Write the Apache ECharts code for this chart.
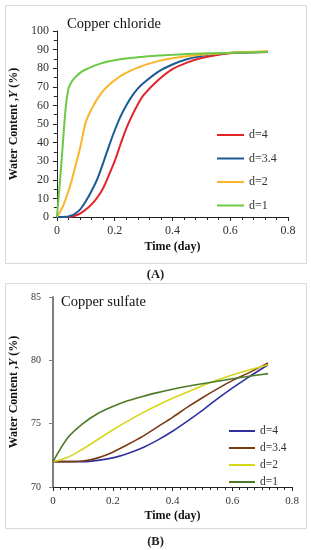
<!DOCTYPE html>
<html><head><meta charset="utf-8">
<script src="https://cdn.jsdelivr.net/npm/echarts@6/dist/echarts.min.js"></script>
<style>html,body{margin:0;padding:0;background:#fff}#c{width:311px;height:550px}</style>
</head><body><div id="c"></div>
<script>
// Panel A: Copper chloride
const timeA = [0,0.01,0.02,0.03,0.04,0.05,0.06,0.08,0.1,0.12,0.14,0.16,0.18,0.2,0.22,0.24,0.26,0.28,0.3,0.35,0.4,0.45,0.5,0.55,0.6,0.65,0.73];
const namesA = ['d=4','d=3.4','d=2','d=1'];
const a_d4  = [0,0,0,0,0,0.2,0.5,1.8,4,6.8,10.5,15.5,22.5,30,39,47.5,54.5,60.5,65.5,73.5,79.5,83,85.5,87,88,88.4,88.7];
const a_d34 = [0,0,0,0.1,0.3,0.8,1.5,4,8.5,14,20.5,29,38,46.5,54,60,65,69,72,78,82,84.8,86.6,87.7,88.2,88.5,88.7];
const a_d2  = [0,2.5,5.5,9.5,14,19,25,37,51,58,63.5,67.8,71,73.5,75.8,77.5,79,80.3,81.5,83.8,85.3,86.4,87.2,87.8,88.3,88.7,89.1];
const a_d1  = [0,18,38,58,69,72.5,74.5,77.5,79.3,80.7,81.9,82.9,83.7,84.3,84.8,85.2,85.6,85.9,86.2,86.8,87.2,87.6,87.9,88.1,88.3,88.5,88.8];
const xTicksA = ['0','0.2','0.4','0.6','0.8'];
// Panel B: Copper sulfate
const timeB = [0,0.05,0.1,0.15,0.2,0.25,0.3,0.35,0.4,0.45,0.5,0.55,0.6,0.65,0.72];
const namesB = ['d=4','d=3.4','d=2','d=1'];
const b_d4  = [72,72,72,72.1,72.3,72.65,73.1,73.7,74.4,75.2,76.05,76.95,77.8,78.6,79.65];
const b_d34 = [72,72,72.05,72.3,72.75,73.35,74.0,74.75,75.5,76.3,77.05,77.75,78.4,78.95,79.8];
const b_d2  = [72,72.35,73.0,73.75,74.5,75.2,75.85,76.45,77.0,77.5,78.0,78.45,78.85,79.2,79.65];
const b_d1  = [72,73.9,75.0,75.8,76.35,76.8,77.15,77.45,77.72,77.95,78.15,78.35,78.55,78.72,78.95];

const colorsA = ['#e3232a','#1b5b94','#fbb52a','#6cc945'];
const colorsB = ['#30319e','#7a3b12','#d6d61c','#4d7a27'];
const serif = '"Liberation Serif","Times New Roman",serif';

function pairs(t, y){ return t.map((v,i)=>[v,y[i]]); }

const seriesA = [a_d4,a_d34,a_d2,a_d1].map((ys,i)=>({
  type:'line', name:namesA[i], xAxisIndex:0, yAxisIndex:0,
  data:pairs(timeA,ys), smooth:0.3, symbol:'none', showSymbol:false,
  lineStyle:{color:colorsA[i], width:2}, itemStyle:{color:colorsA[i]}, z:2+i
}));
const seriesB = [b_d4,b_d34,b_d2,b_d1].map((ys,i)=>({
  type:'line', name:'B:'+namesB[i], xAxisIndex:1, yAxisIndex:1,
  data:pairs(timeB,ys), smooth:0.3, symbol:'none', showSymbol:false,
  lineStyle:{color:colorsB[i], width:1.6}, itemStyle:{color:colorsB[i]}, z:2+i
}));

const yName = {rich:{b:{fontFamily:serif,fontWeight:'bold',fontSize:12,color:'#111'},i:{fontFamily:serif,fontWeight:'bold',fontStyle:'italic',fontSize:12,color:'#111'}}};

const chart = echarts.init(document.getElementById('c'), null, {renderer:'canvas'});
chart.setOption({
  animation:false,
  backgroundColor:'#fff',
  title:[
    {text:'Copper chloride', left:62, top:12, textStyle:{fontFamily:serif,fontSize:14.5,fontWeight:'normal',color:'#111'}},
    {text:'Copper sulfate', left:56, top:290, textStyle:{fontFamily:serif,fontSize:14.5,fontWeight:'normal',color:'#111'}},
    {text:'(A)', left:'center', top:263, textStyle:{fontFamily:serif,fontSize:12.5,fontWeight:'bold',color:'#222'}},
    {text:'(B)', left:'center', top:530, textStyle:{fontFamily:serif,fontSize:12.5,fontWeight:'bold',color:'#222'}}
  ],
  graphic:[
    {type:'rect', shape:{x:5.5,y:5.5,width:301,height:258}, style:{fill:'none',stroke:'#d9d9d9',lineWidth:1}, silent:true},
    {type:'rect', shape:{x:5.5,y:283.5,width:301,height:245}, style:{fill:'none',stroke:'#d9d9d9',lineWidth:1}, silent:true}
  ],
  legend:[
    {data:namesA, orient:'vertical', left:211, top:124, itemWidth:27, itemHeight:12, itemGap:11.5,
     itemStyle:{opacity:0},
     textStyle:{fontFamily:serif,fontSize:12,color:'#333',lineHeight:12}},
    {data:namesB.map(n=>'B:'+n), orient:'vertical', left:223, top:420, itemWidth:26, itemHeight:10, itemGap:5,
     itemStyle:{opacity:0},
     formatter:n=>n.replace('B:',''), textStyle:{fontFamily:serif,fontSize:11.5,color:'#333',lineHeight:10}}
  ],
  grid:[
    {left:53, right:23, top:31, bottom:333, containLabel:false},
    {left:50, right:19, top:297, bottom:63, containLabel:false}
  ],
  xAxis:[
    {type:'value', gridIndex:0, min:0, max:0.8, interval:0.2,
     name:'Time (day)', nameLocation:'middle', nameGap:24,
     nameTextStyle:{fontFamily:serif,fontWeight:'bold',fontSize:12,color:'#111'},
     axisLine:{lineStyle:{color:'#222',width:1}},
     axisTick:{show:true,length:4,lineStyle:{color:'#222'}},
     minorTick:{show:true,splitNumber:5,length:3,lineStyle:{color:'#222'}},
     splitLine:{show:false},
     axisLabel:{fontFamily:serif,fontSize:12,color:'#333',margin:8,formatter:v=>xTicksA[Math.round(v/0.2)]}},
    {type:'value', gridIndex:1, min:0, max:0.8, interval:0.2,
     name:'Time (day)', nameLocation:'middle', nameGap:23,
     nameTextStyle:{fontFamily:serif,fontWeight:'bold',fontSize:12,color:'#111'},
     axisLine:{lineStyle:{color:'#222',width:1}},
     axisTick:{show:true,length:4,lineStyle:{color:'#222'}},
     minorTick:{show:true,splitNumber:8,length:3,lineStyle:{color:'#222'}},
     splitLine:{show:false},
     axisLabel:{fontFamily:serif,fontSize:11,color:'#333',margin:9,formatter:v=>xTicksA[Math.round(v/0.2)]}}
  ],
  yAxis:[
    {type:'value', gridIndex:0, min:0, max:100, interval:10,
     name:'{b|Water Content ,}{i|Y}{b| (%)}', nameLocation:'middle', nameGap:36, nameTextStyle:yName,
     axisLine:{show:true,lineStyle:{color:'#222',width:1}},
     axisTick:{show:true,length:4,lineStyle:{color:'#222'}},
     minorTick:{show:true,splitNumber:2,length:3,lineStyle:{color:'#222'}},
     splitLine:{show:false},
     axisLabel:{fontFamily:serif,fontSize:12,color:'#333',margin:8}},
    {type:'value', gridIndex:1, min:70, max:85, interval:5,
     name:'{b|Water Content ,}{i|Y}{b| (%)}', nameLocation:'middle', nameGap:33, nameTextStyle:yName,
     axisLine:{show:true,lineStyle:{color:'#7f7f7f',width:2}},
     axisTick:{show:true,length:4,lineStyle:{color:'#7f7f7f',width:1}},
     splitLine:{show:false},
     axisLabel:{fontFamily:serif,fontSize:10,color:'#333',margin:12}}
  ],
  series:[...seriesA, ...seriesB]
});
</script>
</body></html>
